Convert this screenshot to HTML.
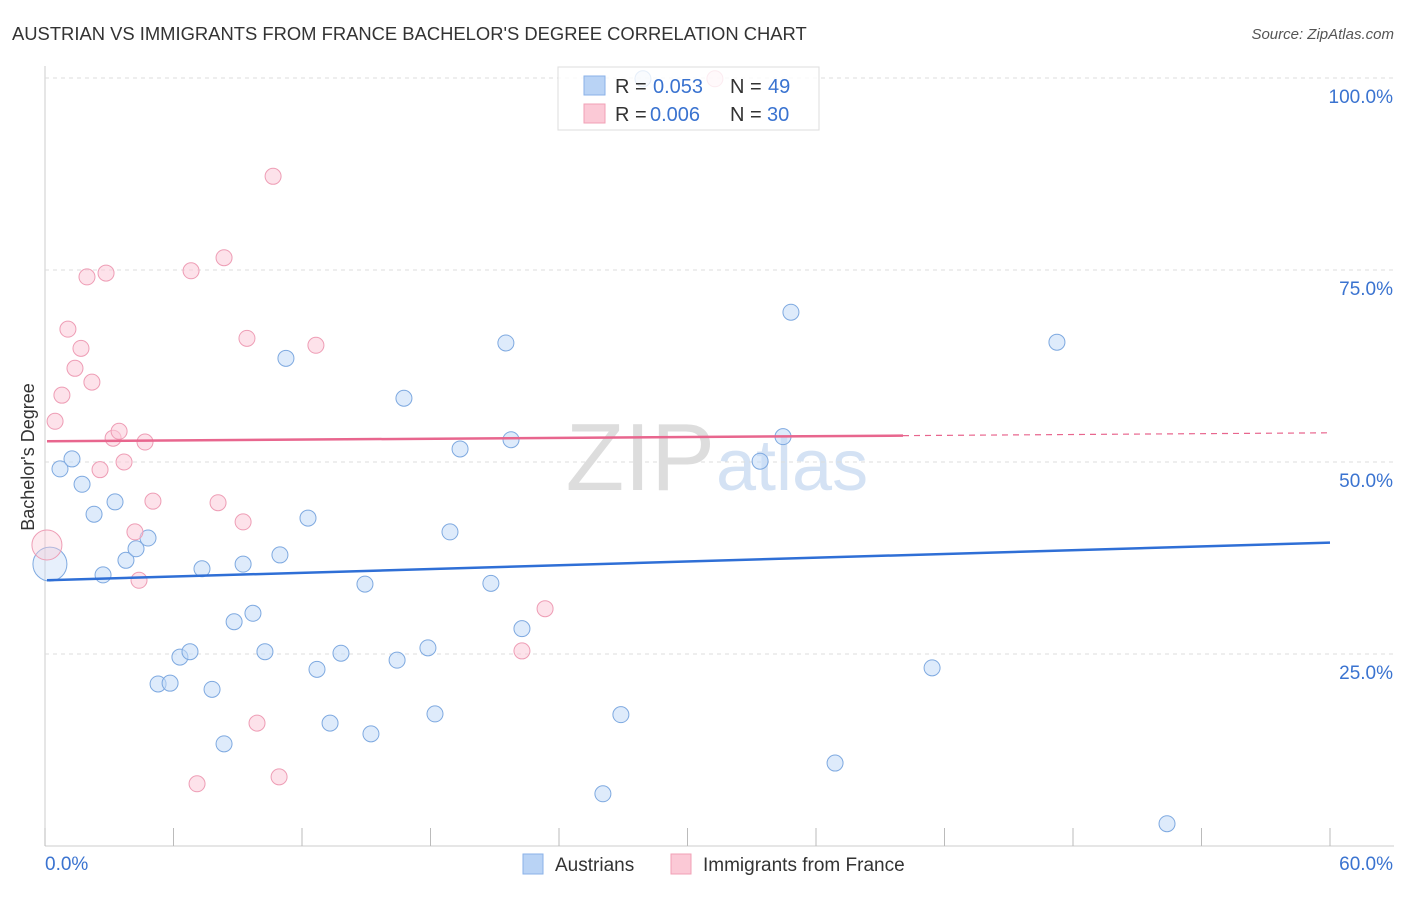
<!DOCTYPE html>
<html><head><meta charset="utf-8"><style>
body{margin:0;background:#fff;font-family:"Liberation Sans",sans-serif}
svg text{font-family:"Liberation Sans",sans-serif}
</style></head><body>
<svg id="c" width="1406" height="892" xmlns="http://www.w3.org/2000/svg">
<text x="12" y="40" font-size="18.4" fill="#333">AUSTRIAN VS IMMIGRANTS FROM FRANCE BACHELOR'S DEGREE CORRELATION CHART</text>
<text x="1394" y="39" font-size="15" fill="#555" font-style="italic" text-anchor="end">Source: ZipAtlas.com</text>
<text x="715" y="490" font-size="96" fill="#ddd" text-anchor="end" font-family="Liberation Serif">ZIP</text>
<text x="716" y="490" font-size="72" fill="#d4e2f4">atlas</text>
<text transform="translate(34,457) rotate(-90)" font-size="18" fill="#333" text-anchor="middle">Bachelor's Degree</text>
<g id="grid"></g><g id="marks"></g>
<g>
<rect x="558" y="67" width="261" height="63" fill="#fff" fill-opacity="0.8" stroke="#ddd"/>
<rect x="584" y="76" width="21" height="19" fill="#b9d3f5" stroke="#8ab2e8"/>
<rect x="584" y="104" width="21" height="19" fill="#fbc9d6" stroke="#f2a0b6"/>
<text x="615" y="93" font-size="20" fill="#333">R =</text>
<text x="653" y="93" font-size="20" fill="#3a73d0">0.053</text>
<text x="730" y="93" font-size="20" fill="#333">N =</text>
<text x="768" y="93" font-size="20" fill="#3a73d0">49</text>
<text x="615" y="121" font-size="20" fill="#333">R =</text>
<text x="650" y="121" font-size="20" fill="#3a73d0">0.006</text>
<text x="730" y="121" font-size="20" fill="#333">N =</text>
<text x="767" y="121" font-size="20" fill="#3a73d0">30</text>
</g>
<g>
<rect x="523" y="854" width="20" height="20" fill="#b9d3f5" stroke="#8ab2e8"/>
<text x="555" y="871" font-size="19" fill="#333">Austrians</text>
<rect x="671" y="854" width="20" height="20" fill="#fbc9d6" stroke="#f2a0b6"/>
<text x="703" y="871" font-size="19" fill="#333">Immigrants from France</text>
</g>
</svg>
<script>
const yTicks=[25,50,75,100];
const yTickLabels=["25.0%","50.0%","75.0%","100.0%"];
const xTickLabels=["0.0%","60.0%"];
const blueX=[0.23,0.70,1.26,1.73,2.29,2.71,3.27,3.78,4.25,4.81,5.28,5.84,6.30,6.77,7.33,7.80,8.36,8.83,9.25,9.71,10.27,10.97,11.25,12.28,12.70,13.31,13.82,14.94,15.22,16.44,16.76,17.88,18.21,18.91,19.38,20.82,21.52,21.76,22.27,26.05,26.89,27.92,33.39,34.46,34.83,36.89,41.42,47.25,52.39];
const blueY=[36.7,49.1,50.4,47.1,43.2,35.3,44.8,37.2,38.7,40.1,21.1,21.2,24.6,25.3,36.1,20.4,13.3,29.2,36.7,30.3,25.3,37.9,63.5,42.7,23.0,16.0,25.1,34.1,14.6,24.2,58.3,25.8,17.2,40.9,51.7,34.2,65.5,52.9,28.3,6.8,17.1,99.9,50.1,53.3,69.5,10.8,23.2,65.6,2.9];
const pinkX=[0.09,0.47,0.79,1.07,1.40,1.68,1.96,2.19,2.57,2.85,3.18,3.46,3.69,4.20,4.39,4.67,5.04,6.82,7.10,8.08,8.36,9.25,9.43,9.90,10.65,10.93,12.65,22.27,23.35,31.28];
const pinkY=[39.2,55.3,58.7,67.3,62.2,64.8,74.1,60.4,49.0,74.6,53.1,54.0,50.0,40.9,34.6,52.6,44.9,74.9,8.1,44.7,76.6,42.2,66.1,16.0,87.2,9.0,65.2,25.4,30.9,99.9];
const blueTrend=[34.6,39.5];
const pinkTrend=[52.7,53.8];
const X0=45,X1=1330,Y0=846,Y100=78;
const xs=v=>X0+(v/60)*(X1-X0);
const ys=v=>Y0-(v/100)*(Y0-Y100);
const NS="http://www.w3.org/2000/svg";
function mk(t,a,p){const e=document.createElementNS(NS,t);for(const k in a)e.setAttribute(k,a[k]);p.appendChild(e);return e;}
const grid=document.getElementById('grid'),marks=document.getElementById('marks');
mk('line',{x1:45,y1:66,x2:45,y2:846,stroke:'#ccc'},grid);
mk('line',{x1:45,y1:846,x2:1394,y2:846,stroke:'#ccc'},grid);
for(let i=0;i<=10;i++){mk('line',{x1:xs(i*6),y1:828,x2:xs(i*6),y2:846,stroke:'#bbb'},grid);}
yTicks.forEach((t,i)=>{
 const g=mk('line',{x1:45,y1:ys(t),x2:1394,y2:ys(t),stroke:'#ddd','stroke-dasharray':'4,4'},grid);
 
 
 const tx=mk('text',{x:1393,y:ys(t)+25,'font-size':19,fill:'#3a73d0','text-anchor':'end'},grid);
 tx.textContent=yTickLabels[i];
 
 
});
const xl0=mk('text',{x:45,y:870,'font-size':19,fill:'#3a73d0'},grid);xl0.textContent=xTickLabels[0];


const xl1=mk('text',{x:1393,y:870,'font-size':19,fill:'#3a73d0','text-anchor':'end'},grid);xl1.textContent=xTickLabels[1];


function pts(X,Y,fill,stroke,name,big){
 X.forEach((x,i)=>{
  const r=i===0?big:8;
  const c=mk('circle',{cx:xs(x),cy:ys(Y[i]),r:r,fill:fill,'fill-opacity':i===0?0.4:0.55,stroke:stroke,'stroke-width':1},marks);
  
  
 });
}
pts(blueX,blueY,'#c3daf7','#7ea9e0','austrians-point',17);
pts(pinkX,pinkY,'#fbcad8','#ee9db5','france-point',15);
const bl=mk('line',{x1:47,y1:ys(blueTrend[0]),x2:1330,y2:ys(blueTrend[1]),stroke:'#2f6fd6','stroke-width':2.5},marks);


const pf=v=>pinkTrend[0]+(pinkTrend[1]-pinkTrend[0])*(v-47)/(1330-47);
const pl=mk('line',{x1:47,y1:ys(pinkTrend[0]),x2:903,y2:ys(pf(903)),stroke:'#e8668e','stroke-width':2.5},marks);


const pd=mk('line',{x1:903,y1:ys(pf(903)),x2:1330,y2:ys(pinkTrend[1]),stroke:'#e8668e','stroke-width':1.2,'stroke-dasharray':'6,5'},marks);


</script>
</body></html>
